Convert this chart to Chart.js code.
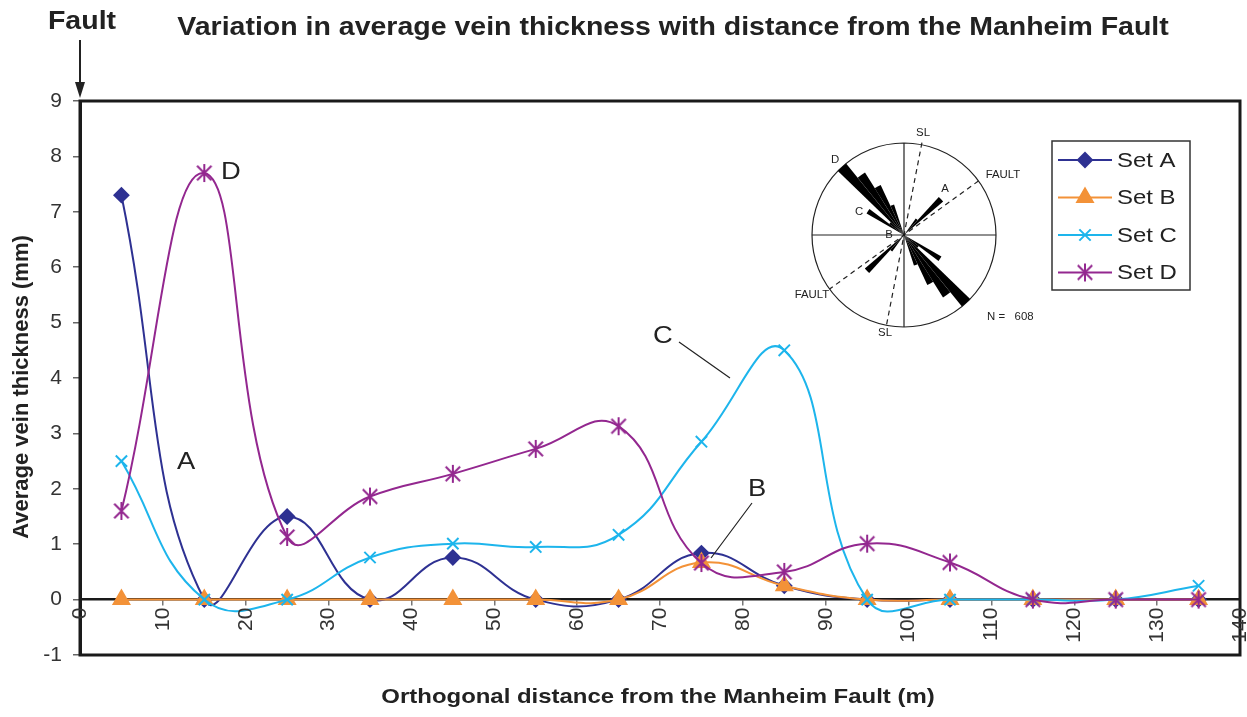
<!DOCTYPE html>
<html>
<head>
<meta charset="utf-8">
<title>Vein thickness vs distance from the Manheim Fault</title>
<script src="https://cdn.jsdelivr.net/npm/chart.js@4.4.0/dist/chart.umd.min.js"></script>
<style>
  html, body { margin: 0; padding: 0; background: #fff; }
  #chart { display: block; }
</style>
</head>
<body>
<canvas id="chart" width="1247" height="717"></canvas>
<script>
// Distance of each sampling station from the fault (m)
const distances = [5, 15, 25, 35, 45, 55, 65, 75, 85, 95, 105, 115, 125, 135];

// Average vein thickness (mm) for each vein set
const setA = [7.3, 0, 1.5, 0, 0.76, 0, 0, 0.84, 0.25, 0, 0, 0, 0, 0];
const setB = [0, 0, 0, 0, 0, 0, 0, 0.67, 0.25, 0, 0, 0, 0, 0];
const setC = [2.5, 0, 0, 0.76, 1.01, 0.95, 1.17, 2.85, 4.5, 0, 0, 0, 0, 0.25];
const setD = [1.6, 7.7, 1.13, 1.86, 2.27, 2.72, 3.13, 0.66, 0.5, 1.01, 0.67, 0, 0, 0];

const setNames = ['Set A', 'Set B', 'Set C', 'Set D'];
const setColors = ['#2E3192', '#F39238', '#1DB5EC', '#93278F'];

// Axis ranges and distance tick labels
const xRange = [0, 140];
const yRange = [-1, 9];
const xTickValues = [0, 10, 20, 30, 40, 50, 60, 70, 80, 90, 100, 110, 120, 130, 140];

// Rose diagram petals: bin centre azimuth (deg) and length as a fraction of the radius
const roseBinWidth = 7;
const roseAzimuths = [303.5, 310.5, 317.5, 324.5, 331.5, 338.5, 39, 46];
const roseLengths  = [0.47, 0.2, 1.0, 0.8, 0.6, 0.35, 0.22, 0.56];
const roseCount = 608;

const FONT = '"Liberation Sans", Arial, sans-serif';
const TEXT_STRETCH = 1.14;

// six-spoke asterisk used for Set D
function makeAsterisk(color, r) {
    const c = document.createElement('canvas');
    const s = r * 2 + 4;
    c.width = c.height = s;
    const g = c.getContext('2d');
    const m = s / 2;
    const d = r * 0.8;
    g.strokeStyle = color;
    g.lineWidth = 2;
    g.beginPath();
    g.moveTo(m, m - r); g.lineTo(m, m + r);
    g.moveTo(m - d, m - d); g.lineTo(m + d, m + d);
    g.moveTo(m - d, m + d); g.lineTo(m + d, m - d);
    g.stroke();
    return c;
}

const asterisk = makeAsterisk(setColors[3], 9);
const pointStyles = ['rectRot', 'triangle', 'crossRot', asterisk];
const pointRadii = [7, 9, 8, 9];
const seriesValues = [setA, setB, setC, setD];

function toPoints(values) {
    return distances.map((d, i) => ({ x: d, y: values[i] }));
}

const datasets = seriesValues.map((vals, i) => ({
    label: setNames[i],
    data: toPoints(vals),
    borderColor: setColors[i],
    backgroundColor: setColors[i],
    borderWidth: 2,
    pointStyle: pointStyles[i],
    pointRadius: pointRadii[i],
    pointBorderWidth: 2,
    pointBorderColor: setColors[i],
    pointBackgroundColor: setColors[i],
    tension: 0.45,
    order: 4 - i
}));

// horizontal text drawn slightly wide
function wideText(ctx, text, x, y, align) {
    ctx.save();
    ctx.translate(x, y);
    ctx.scale(TEXT_STRETCH, 1);
    ctx.textAlign = align || 'center';
    ctx.fillText(text, 0, 0);
    ctx.restore();
}

// Title, axis titles, frame, legend, labels and the rose inset
const decorations = {
    id: 'decorations',
    beforeDraw(chart) {
        const ctx = chart.ctx;
        ctx.save();
        ctx.fillStyle = '#fff';
        ctx.fillRect(0, 0, chart.width, chart.height);
        ctx.restore();
    },
    afterDraw(chart) {
        const ctx = chart.ctx;
        const area = chart.chartArea;
        const x = chart.scales.x;
        const y = chart.scales.y;
        ctx.save();

        // plot frame
        ctx.strokeStyle = '#1a1a1a';
        ctx.lineWidth = 3;
        ctx.strokeRect(area.left, area.top, area.right - area.left, area.bottom - area.top);

        // distance labels, rotated, hanging below the zero line
        const y0 = y.getPixelForValue(0);
        ctx.fillStyle = '#333';
        ctx.font = '21px ' + FONT;
        ctx.textAlign = 'right';
        ctx.textBaseline = 'middle';
        xTickValues.forEach(v => {
            ctx.save();
            ctx.translate(x.getPixelForValue(v), y0 + 8);
            ctx.rotate(-Math.PI / 2);
            ctx.fillText(String(v), 0, 0);
            ctx.restore();
        });

        // titles
        ctx.fillStyle = '#222';
        ctx.textBaseline = 'middle';
        ctx.font = 'bold 25px ' + FONT;
        wideText(ctx, 'Variation in average vein thickness with distance from the Manheim Fault', 673, 28);
        ctx.font = 'bold 21px ' + FONT;
        wideText(ctx, 'Orthogonal distance from the Manheim Fault (m)', 658, 697);
        ctx.save();
        ctx.translate(22, 387);
        ctx.rotate(-Math.PI / 2);
        ctx.font = 'bold 22px ' + FONT;
        ctx.textAlign = 'center';
        ctx.fillText('Average vein thickness (mm)', 0, 0);
        ctx.restore();

        // fault marker at distance 0
        const fx = x.getPixelForValue(0);
        ctx.font = 'bold 25px ' + FONT;
        wideText(ctx, 'Fault', fx + 2, 22);
        ctx.strokeStyle = '#222';
        ctx.lineWidth = 2;
        ctx.beginPath();
        ctx.moveTo(fx, 40);
        ctx.lineTo(fx, 84);
        ctx.stroke();
        ctx.beginPath();
        ctx.moveTo(fx - 5, 82);
        ctx.lineTo(fx + 5, 82);
        ctx.lineTo(fx, 98);
        ctx.closePath();
        ctx.fill();

        // curve labels
        ctx.font = '24px ' + FONT;
        wideText(ctx, 'D', 231, 172);
        wideText(ctx, 'A', 186, 462);
        wideText(ctx, 'C', 663, 336);
        wideText(ctx, 'B', 757, 489);
        ctx.lineWidth = 1.2;
        ctx.beginPath();
        ctx.moveTo(679, 342);
        ctx.lineTo(730, 378);
        ctx.moveTo(752, 503);
        ctx.lineTo(711, 558);
        ctx.stroke();

        drawLegend(ctx);
        drawRose(ctx, 904, 235, 92);
        ctx.restore();
    }
};

function drawMarker(ctx, i, cx, cy) {
    Chart.helpers.drawPoint(ctx, {
        pointStyle: pointStyles[i],
        radius: pointRadii[i],
        borderWidth: 2,
        rotation: 0
    }, cx, cy);
}

function drawLegend(ctx) {
    const bx = 1052, by = 141, bw = 138, bh = 149;
    ctx.fillStyle = '#fff';
    ctx.fillRect(bx, by, bw, bh);
    ctx.strokeStyle = '#333';
    ctx.lineWidth = 1.5;
    ctx.strokeRect(bx, by, bw, bh);
    setNames.forEach((name, i) => {
        const y = 160 + i * 37.5;
        ctx.strokeStyle = setColors[i];
        ctx.fillStyle = setColors[i];
        ctx.lineWidth = 2;
        ctx.beginPath();
        ctx.moveTo(1058, y);
        ctx.lineTo(1112, y);
        ctx.stroke();
        drawMarker(ctx, i, 1085, y);
        ctx.fillStyle = '#222';
        ctx.font = '21px ' + FONT;
        ctx.textBaseline = 'middle';
        wideText(ctx, name, 1117, y + 1, 'left');
    });
}

function polar(cx, cy, az, len) {
    const a = az * Math.PI / 180;
    return [cx + Math.sin(a) * len, cy - Math.cos(a) * len];
}

function drawRose(ctx, cx, cy, r) {
    ctx.strokeStyle = '#222';
    ctx.fillStyle = '#000';
    ctx.lineWidth = 1.2;
    ctx.beginPath();
    ctx.arc(cx, cy, r, 0, Math.PI * 2);
    ctx.moveTo(cx - r, cy); ctx.lineTo(cx + r, cy);
    ctx.moveTo(cx, cy - r); ctx.lineTo(cx, cy + r);
    ctx.stroke();

    // dashed traces of the slip line and fault
    ctx.setLineDash([5, 4]);
    ctx.beginPath();
    let p = polar(cx, cy, 11, r + 2), q = polar(cx, cy, 191, r + 2);
    ctx.moveTo(p[0], p[1]); ctx.lineTo(q[0], q[1]);
    p = polar(cx, cy, 54, r); q = polar(cx, cy, 234, r);
    ctx.moveTo(p[0], p[1]); ctx.lineTo(q[0], q[1]);
    ctx.stroke();
    ctx.setLineDash([]);

    // bidirectional petals
    const half = roseBinWidth / 2;
    roseAzimuths.forEach((az, i) => {
        const len = roseLengths[i] * r;
        [az, az + 180].forEach(a => {
            const a0 = (a - half - 90) * Math.PI / 180;
            const a1 = (a + half - 90) * Math.PI / 180;
            ctx.beginPath();
            ctx.moveTo(cx, cy);
            ctx.arc(cx, cy, len, a0, a1);
            ctx.closePath();
            ctx.fill();
        });
    });

    ctx.fillStyle = '#222';
    ctx.font = '10px ' + FONT;
    ctx.textBaseline = 'middle';
    wideText(ctx, 'SL', cx + 19, cy - 102);
    wideText(ctx, 'SL', cx - 19, cy + 98);
    wideText(ctx, 'FAULT', cx + 99, cy - 60);
    wideText(ctx, 'FAULT', cx - 92, cy + 60);
    wideText(ctx, 'D', cx - 69, cy - 75);
    wideText(ctx, 'A', cx + 41, cy - 46);
    wideText(ctx, 'C', cx - 45, cy - 23);
    wideText(ctx, 'B', cx - 15, cy);
    wideText(ctx, 'N =   ' + roseCount, cx + 83, cy + 82, 'left');
}

new Chart(document.getElementById('chart'), {
    type: 'line',
    data: { datasets },
    options: {
        responsive: false,
        animation: false,
        layout: {
            autoPadding: false,
            padding: { top: 101, bottom: 62, left: 0, right: 7 }
        },
        plugins: {
            legend: { display: false },
            tooltip: { enabled: false }
        },
        scales: {
            x: {
                type: 'linear',
                position: { y: 0 },
                min: xRange[0],
                max: xRange[1],
                grid: { drawOnChartArea: false, tickLength: 5, color: '#777', lineWidth: 1.5 },
                border: { color: '#1a1a1a', width: 2.5 },
                ticks: { stepSize: 10, display: false }
            },
            y: {
                min: yRange[0],
                max: yRange[1],
                afterFit(scale) { scale.width = 80; },
                grid: { drawOnChartArea: false, tickLength: 7, color: '#666', lineWidth: 1.5 },
                border: { color: '#1a1a1a', width: 3 },
                ticks: {
                    stepSize: 1,
                    padding: 11,
                    color: '#333',
                    font: { family: FONT, size: 21 }
                }
            }
        }
    },
    plugins: [decorations]
});
</script>
</body>
</html>
